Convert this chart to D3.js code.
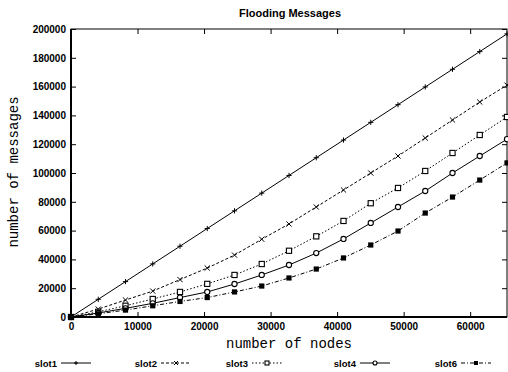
<!DOCTYPE html>
<html><head><meta charset="utf-8">
<script src="https://cdn.jsdelivr.net/npm/d3@7"></script>
<style>
html,body{margin:0;padding:0;background:#fff;}
svg{display:block;}
</style></head>
<body>
<svg id="c" width="508" height="372"></svg>
<script>
const nodes = [0,4096,8192,12288,16384,20480,24576,28672,32768,36864,40960,45056,49152,53248,57344,61440,65536];
const slot1 = [0,12288,24576,36864,49152,61440,73728,86016,98304,110592,122880,135168,147456,159744,172032,184320,196608];
const slot2 = [0,5500,11800,18000,26000,34000,43000,54000,64600,76400,88200,100000,111800,124300,136800,149300,161000];
const slot3 = [0,3600,7800,12500,17400,23000,29200,36800,46000,56000,66700,79000,89600,101400,113900,126400,138900];
const slot4 = [0,2800,6000,9500,13500,17400,22900,29200,36100,44400,54200,65300,76400,87500,100000,111800,123500];
const slot6 = [0,2200,4800,7800,10800,13500,17400,21500,27100,33300,41000,50000,59700,72200,83300,95100,107000];
const seriesNames = ["slot1","slot2","slot3","slot4","slot6"];
const xTicks = [0,10000,20000,30000,40000,50000,60000];
const yTicks = [0,20000,40000,60000,80000,100000,120000,140000,160000,180000,200000];
const title = "Flooding Messages";
const xTitle = "number of nodes";
const yTitle = "number of messages";

const series = [
  {name:"slot1", values:slot1, dash:null, marker:"plus"},
  {name:"slot2", values:slot2, dash:"3,2", marker:"cross"},
  {name:"slot3", values:slot3, dash:"1.5,2", marker:"square"},
  {name:"slot4", values:slot4, dash:null, marker:"circle"},
  {name:"slot6", values:slot6, dash:"4,2,1,2", marker:"filled"}
];

const L=71, R=507, T=29, B=317;
const x = d3.scaleLinear().domain([0,65536]).range([L,R]);
const y = d3.scaleLinear().domain([0,200000]).range([B,T]);
const svg = d3.select("#c");
const sans = "'Liberation Sans', Arial, sans-serif";
const mono = "'Liberation Mono', 'Courier New', monospace";

// axes
const gl = svg.append("g").attr("transform",`translate(${L},0)`)
  .call(d3.axisLeft(y).tickValues(yTicks).tickSize(-5).tickPadding(5).tickFormat(d3.format("d")));
const gb = svg.append("g").attr("transform",`translate(0,${B})`)
  .call(d3.axisBottom(x).tickValues(xTicks).tickSize(-5).tickPadding(6).tickFormat(d3.format("d")));
const gr = svg.append("g").attr("transform",`translate(${R},0)`)
  .call(d3.axisRight(y).tickValues(yTicks).tickSize(-5).tickFormat(""));
const gt = svg.append("g").attr("transform",`translate(0,${T})`)
  .call(d3.axisTop(x).tickValues(xTicks).tickSize(-5).tickFormat(""));
[gl,gb,gr,gt].forEach(g=>{
  g.select(".domain").remove();
  g.selectAll("line").attr("stroke","#000").attr("stroke-width",1);
  g.selectAll("text").attr("font-family",sans).attr("font-size",10).attr("font-weight","bold").attr("fill","#000");
});

// frame
svg.append("rect").attr("x",L).attr("y",T).attr("width",R-L).attr("height",B-T)
  .attr("fill","none").attr("stroke","#000").attr("stroke-width",1);
svg.append("line").attr("x1",L).attr("x2",L).attr("y1",T).attr("y2",B).attr("stroke","#000").attr("stroke-width",2);
svg.append("line").attr("x1",L).attr("x2",R).attr("y1",B).attr("y2",B).attr("stroke","#000").attr("stroke-width",2);

// marker drawing
function drawMarker(g, type, cx, cy, s){
  if(type==="plus"){
    g.append("path").attr("d",`M${cx-s},${cy}H${cx+s}M${cx},${cy-s}V${cy+s}`).attr("stroke","#000").attr("stroke-width",1);
  } else if(type==="cross"){
    g.append("path").attr("d",`M${cx-s},${cy-s}L${cx+s},${cy+s}M${cx-s},${cy+s}L${cx+s},${cy-s}`).attr("stroke","#000").attr("stroke-width",1);
  } else if(type==="square"){
    g.append("rect").attr("x",cx-s).attr("y",cy-s).attr("width",2*s).attr("height",2*s).attr("fill","#fff").attr("stroke","#000").attr("stroke-width",1.1);
  } else if(type==="circle"){
    g.append("circle").attr("cx",cx).attr("cy",cy).attr("r",s).attr("fill","#fff").attr("stroke","#000").attr("stroke-width",1.1);
  } else if(type==="filled"){
    g.append("rect").attr("x",cx-s).attr("y",cy-s).attr("width",2*s).attr("height",2*s).attr("fill","#000");
  }
}

const plot = svg.append("g");
const line = d3.line().x((d,i)=>x(nodes[i])).y(d=>y(d));
series.forEach(s=>{
  plot.append("path").datum(s.values).attr("d",line).attr("fill","none")
    .attr("stroke","#000").attr("stroke-width",1)
    .attr("stroke-dasharray",s.dash);
  const mg = plot.append("g");
  s.values.forEach((v,i)=>drawMarker(mg,s.marker,x(nodes[i]),y(v),2.6));
});

// titles
svg.append("text").attr("x",290).attr("y",17).attr("text-anchor","middle")
  .attr("font-family",sans).attr("font-size",11).attr("font-weight","bold").text(title);
svg.append("text").attr("x",289).attr("y",348).attr("text-anchor","middle")
  .attr("font-family",mono).attr("font-size",14).text(xTitle);
svg.append("text").attr("transform","translate(18,172) rotate(-90)").attr("text-anchor","middle")
  .attr("font-family",mono).attr("font-size",14).text(yTitle);

// legend
const legX = [57,157,248,356,457];
const legY = 363;
series.forEach((s,i)=>{
  const g = svg.append("g");
  g.append("text").attr("x",legX[i]).attr("y",legY+3.5).attr("text-anchor","end")
    .attr("font-family",sans).attr("font-size",9.5).attr("font-weight","bold").text(s.name);
  const x0 = legX[i]+4, x1 = legX[i]+34;
  g.append("line").attr("x1",x0).attr("x2",x1).attr("y1",legY).attr("y2",legY)
    .attr("stroke","#000").attr("stroke-width",1).attr("stroke-dasharray",s.dash);
  drawMarker(g,s.marker,(x0+x1)/2,legY,2);
});
</script>
</body></html>
